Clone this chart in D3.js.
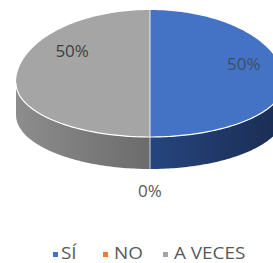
<!DOCTYPE html>
<html lang="es">
<head>
  <meta charset="UTF-8">
  <title>Pie 3D</title>
  <script src="https://d3js.org/d3.v7.min.js"></script>
  <style>
    body { margin: 0; background: #fff; }
    text { font-family: "Open Sans", "Liberation Sans", sans-serif; }
  </style>
</head>
<body>
<div id="chart"></div>
<script>
  // Chart data
  const categories = ["SÍ", "NO", "A VECES"];
  const values = [50, 0, 50];
  const labels = ["50%", "0%", "50%"];
  const colors = ["#4472C4", "#ED7D31", "#A5A5A5"];

  const width = 273, height = 263;

  // pie geometry (Excel style 3D pie, front half is flatter)
  const cx = 150, cy = 83;
  const rx = 134, ryBack = 73, ryFront = 54, depth = 32;

  const svg = d3.select('#chart').append('svg')
    .attr('width', width)
    .attr('height', height);

  const defs = svg.append('defs');
  const wallShade = [
    ["#26457f", "#1a2c52"],   // SÍ
    ["#b35a1e", "#8a4415"],   // NO
    ["#8d8d8d", "#6b6b6b"]    // A VECES
  ];
  // blue wall: light near center -> dark at right; gray: light at left -> dark near center
  wallShade.forEach((c, i) => {
    const g = defs.append('linearGradient').attr('id', 'wall' + i)
      .attr('gradientUnits', 'userSpaceOnUse')
      .attr('x1', i === 2 ? cx - rx : cx).attr('x2', i === 2 ? cx : cx + rx)
      .attr('y1', 0).attr('y2', 0);
    g.append('stop').attr('offset', '0%').attr('stop-color', c[0]);
    g.append('stop').attr('offset', '100%').attr('stop-color', c[1]);
  });

  const pie = d3.pie().sort(null).value(d => d)(values);

  function pt(a, dy) {
    const ry = Math.cos(a) > 0 ? ryBack : ryFront;
    return [cx + rx * Math.sin(a), cy - ry * Math.cos(a) + (dy || 0)];
  }
  function arcPts(a0, a1, dy) {
    const n = Math.max(2, Math.ceil(Math.abs(a1 - a0) / 0.02));
    return d3.range(n + 1).map(i => pt(a0 + (a1 - a0) * i / n, dy));
  }

  // side walls (only the front facing part)
  pie.forEach((s, i) => {
    const a0 = Math.max(s.startAngle, Math.PI / 2);
    const a1 = Math.min(s.endAngle, Math.PI * 1.5);
    if (a1 <= a0) return;
    const top = arcPts(a0, a1, 0);
    const bot = arcPts(a1, a0, depth);
    svg.append('path')
      .attr('d', d3.line()([...top, ...bot]) + 'Z')
      .attr('fill', `url(#wall${i})`);
  });

  // divider on the front wall
  svg.append('line')
    .attr('x1', pt(Math.PI)[0]).attr('x2', pt(Math.PI)[0])
    .attr('y1', pt(Math.PI)[1]).attr('y2', pt(Math.PI, depth)[1])
    .attr('stroke', '#c9d3e8').attr('stroke-width', 1);

  // top faces
  pie.forEach((s, i) => {
    if (s.endAngle - s.startAngle <= 0) return;
    const pts = [[cx, cy], ...arcPts(s.startAngle, s.endAngle, 0)];
    svg.append('path')
      .attr('d', d3.line()(pts) + 'Z')
      .attr('fill', colors[i]);
  });
  // light edge along the front rim and the divider
  svg.append('path')
    .attr('d', d3.line()(arcPts(Math.PI / 2, Math.PI * 1.5, 0)))
    .attr('fill', 'none').attr('stroke', '#ffffff').attr('stroke-width', 1.2);
  svg.append('line')
    .attr('x1', pt(0)[0]).attr('x2', pt(Math.PI)[0])
    .attr('y1', pt(0)[1]).attr('y2', pt(Math.PI)[1])
    .attr('stroke', '#e8ecf5').attr('stroke-width', 1);

  // data labels
  const labelShift = [-0.37, 0, 0.65];   // angle tweak (radians)
  const labelFrac = [0.75, 0, 0.73];
  pie.forEach((s, i) => {
    let x, y;
    if (s.endAngle - s.startAngle > 0) {
      const a = (s.startAngle + s.endAngle) / 2 + labelShift[i];
      const ry = Math.cos(a) > 0 ? ryBack : ryFront;
      x = cx + rx * labelFrac[i] * Math.sin(a);
      y = cy - ry * labelFrac[i] * Math.cos(a);
    } else {
      const p = pt(s.startAngle, depth);
      x = p[0]; y = p[1] + 21;
    }
    svg.append('text')
      .attr('x', x).attr('y', y)
      .attr('text-anchor', 'middle')
      .attr('dominant-baseline', 'central')
      .style('font-size', '17px')
      .attr('fill', i === 1 ? '#595959' : '#404040')
      .attr('fill-opacity', i === 0 ? 0.75 : 1)
      .text(labels[i]);
  });

  // legend
  const legendX = [53, 103, 163];
  const legend = svg.append('g');
  categories.forEach((c, i) => {
    legend.append('rect')
      .attr('x', legendX[i]).attr('y', 252)
      .attr('width', 5).attr('height', 5)
      .attr('fill', colors[i]);
    const t = legend.append('text')
      .attr('x', legendX[i] + (i === 0 ? 8 : 11))
      .attr('y', 259)
      .style('font-size', '16px')
      .attr('fill', '#595959')
      .text(c);
    const w = t.node().getComputedTextLength();
    t.attr('textLength', w * 1.18).attr('lengthAdjust', 'spacingAndGlyphs');
  });
</script>
</body>
</html>
